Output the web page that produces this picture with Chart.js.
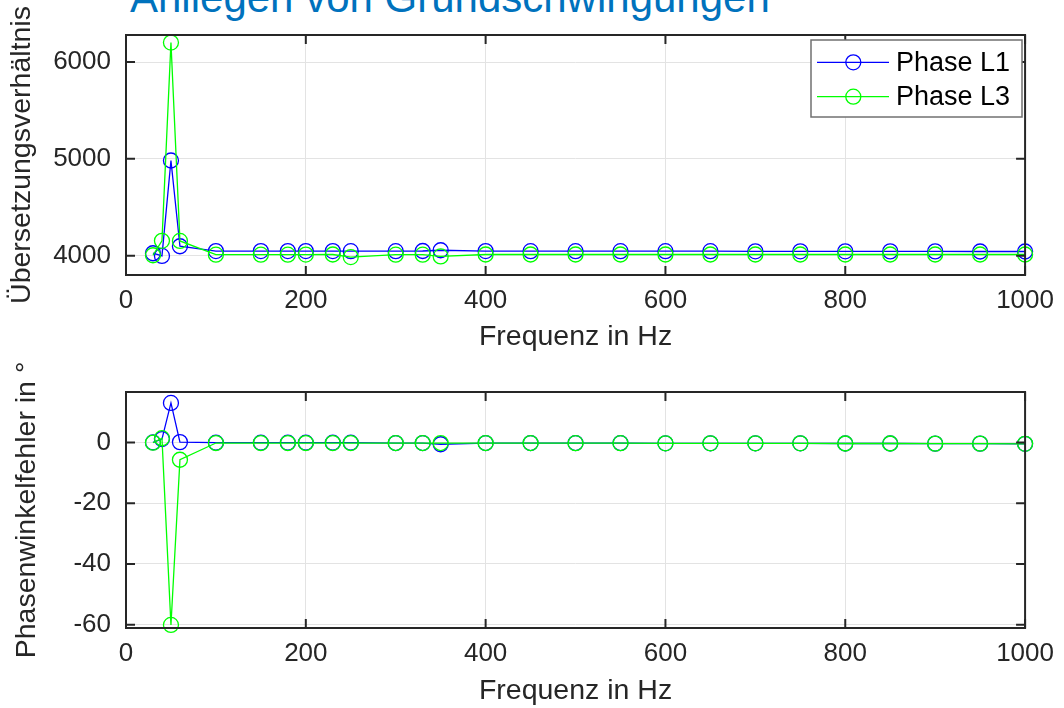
<!DOCTYPE html>
<html>
<head>
<meta charset="utf-8">
<script src="https://cdn.jsdelivr.net/npm/chart.js@4.4.1/dist/chart.umd.min.js"></script>
<style>
  html, body { margin: 0; padding: 0; background: #fff; }
  body { width: 1064px; height: 708px; position: relative; overflow: hidden; font-family: "Liberation Sans", Arial, sans-serif; }
  #title { position: absolute; left: 130px; top: -26px; font-size: 42px; color: #0072BD; white-space: nowrap; line-height: 48px; }
  .wrap { position: absolute; left: 0; width: 1064px; height: 354px; }
  #w1 { top: 0; }
  #w2 { top: 354px; }
</style>
</head>
<body>
<div id="title">Anliegen von Grundschwingungen</div>
<div class="wrap" id="w1"><canvas id="c1" width="1064" height="354"></canvas></div>
<div class="wrap" id="w2"><canvas id="c2" width="1064" height="354"></canvas></div>
<script>
// ---- data ----
const frequencies = [30, 40, 50, 60, 100, 150, 180, 200, 230, 250, 300, 330, 350, 400, 450, 500, 550, 600, 650, 700, 750, 800, 850, 900, 950, 1000];
const ratioL1 = [4025, 3997, 4983, 4097, 4047, 4047, 4047, 4047, 4047, 4046, 4046, 4048, 4056, 4047, 4046, 4046, 4046, 4046, 4046, 4045, 4045, 4045, 4044, 4044, 4043, 4043];
const ratioL3 = [4004, 4153, 6202, 4152, 4010, 4010, 4010, 4011, 4012, 3985, 4010, 4010, 3992, 4012, 4012, 4012, 4012, 4012, 4012, 4012, 4012, 4012, 4012, 4012, 4012, 4012];
const phaseL1 = [0.0, 1.1, 13.0, 0.1, -0.1, -0.1, -0.1, -0.1, -0.1, -0.1, -0.2, -0.2, -0.6, -0.2, -0.2, -0.2, -0.2, -0.3, -0.3, -0.3, -0.3, -0.35, -0.35, -0.4, -0.4, -0.45];
const phaseL3 = [-0.1, 1.4, -60.1, -5.7, -0.2, -0.2, -0.2, -0.2, -0.2, -0.2, -0.2, -0.2, -0.2, -0.2, -0.2, -0.25, -0.25, -0.3, -0.3, -0.3, -0.3, -0.35, -0.35, -0.4, -0.4, -0.45];
const xTicks = [0, 200, 400, 600, 800, 1000];
const ratioTicks = [4000, 5000, 6000];
const phaseTicks = [-60, -40, -20, 0];
const seriesLabels = ['Phase L1', 'Phase L3'];
const xTitle = 'Frequenz in Hz';
const ratioTitle = 'Übersetzungsverhältnis';
const phaseTitle = 'Phasenwinkelfehler in °';

const FONT = '"Liberation Sans", Arial, sans-serif';
const AX = '#262626';
const BLUE = '#0000ff';
const GREEN = '#00ff00';

function pts(ys) { return frequencies.map((x, i) => ({ x: x, y: ys[i] })); }

const boxPlugin = {
  id: 'box',
  afterDraw(chart) {
    const { ctx, chartArea: a, scales } = chart;
    ctx.save();
    ctx.strokeStyle = AX;
    ctx.lineWidth = 2;
    ctx.strokeRect(a.left, a.top, a.right - a.left, a.bottom - a.top);
    const L = 9;
    ctx.beginPath();
    scales.x.ticks.forEach(t => {
      const px = scales.x.getPixelForValue(t.value);
      ctx.moveTo(px, a.bottom); ctx.lineTo(px, a.bottom - L);
      ctx.moveTo(px, a.top); ctx.lineTo(px, a.top + L);
    });
    scales.y.ticks.forEach(t => {
      const py = scales.y.getPixelForValue(t.value);
      ctx.moveTo(a.left, py); ctx.lineTo(a.left + L, py);
      ctx.moveTo(a.right, py); ctx.lineTo(a.right - L, py);
    });
    ctx.stroke();
    ctx.restore();
  }
};

const legendPlugin = {
  id: 'boxlegend',
  afterDraw(chart, args, opts) {
    if (!opts.show) return;
    const { ctx } = chart;
    const x0 = 811, y0 = 40, w = 211, h = 77;
    ctx.save();
    ctx.fillStyle = '#ffffff';
    ctx.fillRect(x0, y0, w, h);
    ctx.strokeStyle = '#707070';
    ctx.lineWidth = 1.5;
    ctx.strokeRect(x0, y0, w, h);
    const rows = [62.3, 96.7];
    chart.data.datasets.forEach((ds, i) => {
      const y = rows[i];
      ctx.strokeStyle = ds.borderColor;
      ctx.lineWidth = 1.3;
      ctx.beginPath(); ctx.moveTo(817, y); ctx.lineTo(889, y); ctx.stroke();
      ctx.beginPath(); ctx.arc(853.3, y, 7.5, 0, Math.PI * 2); ctx.stroke();
      ctx.fillStyle = '#000000';
      ctx.font = '27px ' + FONT;
      ctx.textBaseline = 'middle';
      ctx.textAlign = 'left';
      ctx.fillText(ds.label, 896, y + 1);
    });
    ctx.restore();
  }
};

function makeChart(id, yA, yB, yMin, yMax, yTickVals, yTitleText, yTitlePad, areaTop, xHeight, showLegend) {
  const dsCommon = { showLine: true, tension: 0, borderWidth: 1.3, pointRadius: 7.5, pointBorderWidth: 1.3, pointBackgroundColor: 'rgba(0,0,0,0)', clip: false };
  return new Chart(document.getElementById(id), {
    type: 'scatter',
    data: {
      datasets: [
        Object.assign({ label: seriesLabels[0], data: pts(yA), borderColor: BLUE, pointBorderColor: BLUE, order: 1 }, dsCommon),
        Object.assign({ label: seriesLabels[1], data: pts(yB), borderColor: GREEN, pointBorderColor: GREEN, order: 0 }, dsCommon)
      ]
    },
    options: {
      responsive: false,
      animation: false,
      events: [],
      layout: { padding: { top: areaTop, right: 35, left: 0, bottom: 0 } },
      plugins: { legend: { display: false }, tooltip: { enabled: false }, boxlegend: { show: showLegend } },
      scales: {
        x: {
          type: 'linear', min: 0, max: 1000,
          afterBuildTicks: s => { s.ticks = xTicks.map(v => ({ value: v })); },
          afterFit: s => { s.height = xHeight; },
          grid: { color: '#e3e3e3', lineWidth: 1, drawTicks: false },
          border: { display: false },
          ticks: { color: AX, font: { family: FONT, size: 26 }, padding: 10, maxRotation: 0, autoSkip: false, callback: v => String(v) },
          title: { display: true, text: xTitle, color: AX, font: { family: FONT, size: 28.5 }, padding: { top: 0, bottom: 0 } }
        },
        y: {
          type: 'linear', min: yMin, max: yMax,
          afterBuildTicks: s => { s.ticks = yTickVals.map(v => ({ value: v })); },
          afterFit: s => { s.width = 126; },
          grid: { color: '#e3e3e3', lineWidth: 1, drawTicks: false },
          border: { display: false },
          ticks: { color: AX, font: { family: FONT, size: 26 }, padding: 15, autoSkip: false, callback: v => String(v) },
          title: { display: true, text: yTitleText, color: AX, font: { family: FONT, size: 28.5 }, padding: { top: yTitlePad, bottom: 0 } }
        }
      }
    },
    plugins: [boxPlugin, legendPlugin]
  });
}

makeChart('c1', ratioL1, ratioL3, 3800, 6280, ratioTicks, ratioTitle, 5, 35, 79, true);
makeChart('c2', phaseL1, phaseL3, -61.1, 16.6, phaseTicks, phaseTitle, 10, 38, 80, false);
</script>
</body>
</html>
